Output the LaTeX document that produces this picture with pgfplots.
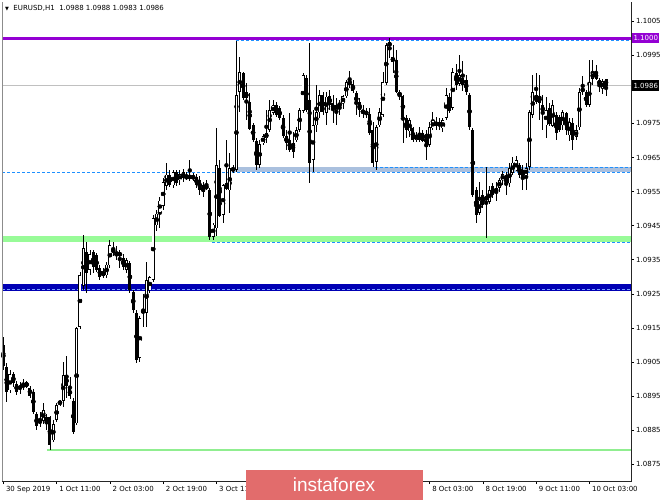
\documentclass[border=0pt]{standalone}
\usepackage{pgfplots}
\pgfplotsset{compat=1.18}
\usepackage{pgfplotstable}
\usepackage{fontspec}
\setmainfont{DejaVu Sans}
\newfontfamily\wmfont{Liberation Sans}
\definecolor{lvlviolet}{RGB}{148,0,211}
\definecolor{lvldash}{RGB}{30,144,255}
\definecolor{lvlgray}{RGB}{192,192,192}
\definecolor{lvlsteel}{RGB}{170,192,222}
\definecolor{lvlgreen}{RGB}{152,251,152}
\definecolor{lvlblue}{RGB}{0,0,180}
\definecolor{lvlblued}{RGB}{120,160,255}
\definecolor{lvlgreenthin}{RGB}{144,238,144}
\definecolor{wmred}{RGB}{226,108,108}

\pgfplotstableread{
k o h l c
0 1.09100 1.09123 1.09026 1.09038
1 1.09035 1.09047 1.08932 1.08962
2 1.08968 1.09026 1.08959 1.09015
3 1.09015 1.09021 1.08976 1.08988
4 1.08988 1.08997 1.08956 1.08962
5 1.08971 1.08994 1.08959 1.08982
6 1.08979 1.09003 1.08968 1.08985
7 1.08991 1.08997 1.08974 1.08979
8 1.08976 1.08982 1.08947 1.08953
9 1.08965 1.08971 1.08897 1.08906
10 1.08897 1.08903 1.08850 1.08862
11 1.08871 1.08903 1.08859 1.08880
12 1.08877 1.08930 1.08868 1.08909
13 1.08889 1.08897 1.08850 1.08868
14 1.08889 1.08894 1.08792 1.08806
15 1.08821 1.08880 1.08815 1.08868
16 1.08880 1.08932 1.08874 1.08924
17 1.08927 1.08938 1.08921 1.08935
18 1.08938 1.09050 1.08918 1.09012
19 1.09012 1.09070 1.08947 1.08979
20 1.08974 1.09009 1.08944 1.08950
21 1.08938 1.08944 1.08839 1.08847
22 1.08871 1.09155 1.08865 1.09150
23 1.09153 1.09314 1.09147 1.09305
24 1.09273 1.09423 1.09261 1.09384
25 1.09373 1.09402 1.09252 1.09311
26 1.09320 1.09379 1.09305 1.09367
27 1.09373 1.09379 1.09311 1.09329
28 1.09364 1.09370 1.09314 1.09320
29 1.09326 1.09335 1.09291 1.09299
30 1.09302 1.09326 1.09296 1.09314
31 1.09305 1.09343 1.09296 1.09337
32 1.09335 1.09408 1.09326 1.09393
33 1.09384 1.09402 1.09361 1.09370
34 1.09373 1.09390 1.09349 1.09361
35 1.09361 1.09379 1.09326 1.09373
36 1.09355 1.09367 1.09320 1.09329
37 1.09320 1.09355 1.09311 1.09349
38 1.09340 1.09346 1.09252 1.09261
39 1.09255 1.09261 1.09194 1.09203
40 1.09194 1.09203 1.09047 1.09056
41 1.09062 1.09185 1.09050 1.09179
42 1.09194 1.09252 1.09153 1.09203
43 1.09194 1.09343 1.09153 1.09291
44 1.09261 1.09302 1.09252 1.09299
45 1.09291 1.09481 1.09285 1.09472
46 1.09452 1.09496 1.09437 1.09487
47 1.09490 1.09534 1.09443 1.09525
48 1.09510 1.09590 1.09496 1.09578
49 1.09566 1.09634 1.09555 1.09599
50 1.09599 1.09613 1.09563 1.09569
51 1.09569 1.09613 1.09560 1.09607
52 1.09607 1.09613 1.09566 1.09575
53 1.09584 1.09613 1.09569 1.09602
54 1.09590 1.09616 1.09578 1.09607
55 1.09596 1.09607 1.09584 1.09590
56 1.09593 1.09643 1.09581 1.09596
57 1.09596 1.09604 1.09581 1.09590
58 1.09593 1.09602 1.09560 1.09569
59 1.09584 1.09596 1.09540 1.09555
60 1.09569 1.09578 1.09534 1.09549
61 1.09566 1.09584 1.09555 1.09560
62 1.09555 1.09560 1.09408 1.09417
63 1.09417 1.09458 1.09408 1.09452
64 1.09443 1.09736 1.09420 1.09628
65 1.09622 1.09643 1.09475 1.09481
66 1.09481 1.09575 1.09458 1.09569
67 1.09575 1.09701 1.09555 1.09558
68 1.09555 1.09663 1.09487 1.09619
69 1.09613 1.09628 1.09604 1.09619
70 1.09613 1.09992 1.09607 1.09833
71 1.09842 1.09945 1.09783 1.09901
72 1.09898 1.09901 1.09819 1.09825
73 1.09825 1.09869 1.09760 1.09842
74 1.09813 1.09839 1.09731 1.09736
75 1.09745 1.09751 1.09695 1.09701
76 1.09701 1.09707 1.09613 1.09628
77 1.09628 1.09701 1.09619 1.09690
78 1.09692 1.09719 1.09687 1.09713
79 1.09707 1.09789 1.09692 1.09722
80 1.09731 1.09819 1.09725 1.09789
81 1.09781 1.09819 1.09775 1.09804
82 1.09804 1.09813 1.09769 1.09775
83 1.09795 1.09801 1.09760 1.09766
84 1.09766 1.09775 1.09710 1.09713
85 1.09713 1.09731 1.09672 1.09692
86 1.09701 1.09781 1.09666 1.09672
87 1.09692 1.09725 1.09648 1.09666
88 1.09701 1.09739 1.09695 1.09731
89 1.09731 1.09795 1.09725 1.09789
90 1.09786 1.09898 1.09781 1.09892
91 1.09883 1.09892 1.09783 1.09789
92 1.09819 1.09986 1.09575 1.09634
93 1.09643 1.09789 1.09607 1.09745
94 1.09745 1.09863 1.09725 1.09783
95 1.09783 1.09848 1.09766 1.09833
96 1.09833 1.09842 1.09775 1.09783
97 1.09783 1.09842 1.09745 1.09830
98 1.09830 1.09848 1.09789 1.09804
99 1.09810 1.09833 1.09751 1.09789
100 1.09789 1.09825 1.09745 1.09804
101 1.09801 1.09819 1.09775 1.09810
102 1.09810 1.09836 1.09795 1.09830
103 1.09830 1.09877 1.09825 1.09871
104 1.09877 1.09904 1.09854 1.09863
105 1.09866 1.09877 1.09839 1.09845
106 1.09839 1.09845 1.09775 1.09807
107 1.09813 1.09825 1.09769 1.09789
108 1.09789 1.09804 1.09766 1.09781
109 1.09786 1.09795 1.09766 1.09778
110 1.09778 1.09795 1.09716 1.09722
111 1.09731 1.09754 1.09622 1.09634
112 1.09637 1.09745 1.09613 1.09739
113 1.09745 1.09795 1.09740 1.09783
114 1.09775 1.09901 1.09769 1.09871
115 1.09869 1.09986 1.09863 1.09980
116 1.09977 1.10000 1.09942 1.09989
117 1.09930 1.09980 1.09898 1.09945
118 1.09936 1.09965 1.09839 1.09842
119 1.09842 1.09848 1.09819 1.09830
120 1.09830 1.09836 1.09695 1.09769
121 1.09766 1.09775 1.09710 1.09731
122 1.09728 1.09766 1.09710 1.09760
123 1.09736 1.09739 1.09695 1.09701
124 1.09701 1.09725 1.09695 1.09716
125 1.09704 1.09739 1.09695 1.09719
126 1.09722 1.09731 1.09695 1.09701
127 1.09719 1.09731 1.09643 1.09681
128 1.09687 1.09754 1.09681 1.09739
129 1.09736 1.09783 1.09731 1.09760
130 1.09754 1.09769 1.09731 1.09745
131 1.09742 1.09766 1.09731 1.09754
132 1.09736 1.09766 1.09725 1.09760
133 1.09766 1.09854 1.09760 1.09833
134 1.09830 1.09842 1.09783 1.09789
135 1.09795 1.09913 1.09789 1.09901
136 1.09898 1.09927 1.09848 1.09863
137 1.09866 1.09951 1.09860 1.09892
138 1.09883 1.09936 1.09848 1.09863
139 1.09877 1.09892 1.09833 1.09842
140 1.09833 1.09842 1.09731 1.09739
141 1.09731 1.09736 1.09534 1.09540
142 1.09555 1.09563 1.09458 1.09481
143 1.09490 1.09578 1.09481 1.09525
144 1.09540 1.09555 1.09502 1.09510
145 1.09525 1.09622 1.09414 1.09537
146 1.09519 1.09569 1.09516 1.09555
147 1.09566 1.09575 1.09531 1.09540
148 1.09560 1.09578 1.09522 1.09549
149 1.09560 1.09590 1.09549 1.09584
150 1.09584 1.09610 1.09569 1.09602
151 1.09599 1.09607 1.09540 1.09569
152 1.09575 1.09634 1.09563 1.09619
153 1.09607 1.09651 1.09599 1.09637
154 1.09613 1.09654 1.09610 1.09643
155 1.09628 1.09634 1.09590 1.09599
156 1.09613 1.09628 1.09555 1.09593
157 1.09599 1.09634 1.09555 1.09619
158 1.09622 1.09789 1.09613 1.09783
159 1.09775 1.09892 1.09766 1.09842
160 1.09833 1.09898 1.09807 1.09813
161 1.09833 1.09892 1.09760 1.09810
162 1.09804 1.09833 1.09731 1.09781
163 1.09745 1.09827 1.09707 1.09789
164 1.09798 1.09810 1.09745 1.09751
165 1.09745 1.09819 1.09739 1.09804
166 1.09775 1.09783 1.09701 1.09722
167 1.09769 1.09775 1.09725 1.09731
168 1.09745 1.09789 1.09731 1.09783
169 1.09781 1.09783 1.09716 1.09731
170 1.09716 1.09766 1.09701 1.09754
171 1.09751 1.09766 1.09672 1.09701
172 1.09710 1.09745 1.09701 1.09731
173 1.09739 1.09854 1.09731 1.09842
174 1.09842 1.09889 1.09833 1.09854
175 1.09842 1.09848 1.09798 1.09804
176 1.09804 1.09936 1.09798 1.09871
177 1.09883 1.09936 1.09863 1.09901
178 1.09901 1.09921 1.09877 1.09883
179 1.09863 1.09883 1.09842 1.09877
180 1.09854 1.09880 1.09836 1.09874
181 1.09880 1.09880 1.09830 1.09860
}\ohlc

\begin{document}
\begin{tikzpicture}
\useasboundingbox[fill=white] (0,0) rectangle (665pt,499pt);
\begin{axis}[
  at={(2pt,18pt)}, anchor=south west,
  scale only axis, width=629pt, height=479pt,
  xmin=-0.4, xmax=188.5, ymin=1.08701, ymax=1.10106,
  clip mode=individual,
  axis line style={draw=none},
  font=\fontsize{7}{8}\selectfont,
  xtick={0,16,32,48,64,80,96,112,128,144,160,176},
  xticklabels={30 Sep 2019, 1 Oct 11:00, 2 Oct 03:00, 2 Oct 19:00, 3 Oct 11:00, {}, {}, {}, 8 Oct 03:00, 8 Oct 19:00, 9 Oct 11:00, 10 Oct 03:00},
  xtick pos=bottom, ytick pos=right, yticklabel pos=right,
  tick align=outside, major tick length=3pt,
  tick style={black, line width=0.6pt},
  xticklabel style={anchor=north west, xshift=0.5pt, inner sep=2pt},
  ytick={1.0875,1.0885,1.0895,1.0905,1.0915,1.0925,1.0935,1.0945,1.0955,1.0965,1.0975,1.0995,1.1005},
  scaled y ticks=false,
  yticklabel style={anchor=west, inner sep=2pt, /pgf/number format/.cd, fixed, fixed zerofill, precision=4, assume math mode=true},
  xticklabel style={/pgf/number format/assume math mode=true},
  extra description/.code={
    \draw[black!45, line width=1pt] (rel axis cs:0,0) -- (rel axis cs:0,1);
    \draw[black!85, line width=0.8pt] (rel axis cs:0,0) -- (rel axis cs:1,0) -- (rel axis cs:1,1);
  },
]
% levels
\addplot[lvlgray, line width=0.8pt] coordinates {(-0.4,1.0986) (188.5,1.0986)};
\addplot[lvlsteel, line width=5pt] coordinates {(69.3,1.09615) (188.5,1.09615)};
\addplot[lvldash, line width=0.8pt, dash pattern=on 3pt off 2pt] coordinates {(-0.4,1.09607) (188.5,1.09607)};
\addplot[lvldash, line width=0.8pt, dash pattern=on 3pt off 2pt] coordinates {(111.6,1.09622) (188.5,1.09622)};
\addplot[lvlgreen, line width=6pt] coordinates {(-0.4,1.09411) (188.5,1.09411)};
\addplot[lvldash, line width=0.8pt, dash pattern=on 3pt off 2pt] coordinates {(62.7,1.09402) (188.5,1.09402)};
\addplot[lvlblue, line width=7pt] coordinates {(-0.4,1.09268) (188.5,1.09268)};
\addplot[lvlblued, line width=0.8pt, dash pattern=on 3pt off 2pt] coordinates {(-0.4,1.09262) (188.5,1.09262)};
\addplot[lvlgreenthin, line width=1.5pt] coordinates {(13.1,1.08792) (188.5,1.08792)};
\addplot[lvldash, line width=0.8pt, dash pattern=on 3pt off 2pt] coordinates {(69.9,1.09992) (188.5,1.09992)};
\addplot[lvlviolet, line width=3pt] coordinates {(-0.4,1.1000) (188.5,1.1000)};
% wicks
\addplot[only marks, mark=none,
  error bars/.cd, y dir=both, y explicit, error mark=none,
  error bar style={draw=black, line width=0.8pt}]
  table[x=k, y expr={(\thisrow{h}+\thisrow{l})/2}, y error expr={(\thisrow{h}-\thisrow{l})/2}] {\ohlc};
% bodies
\addplot[only marks, mark=none,
  error bars/.cd, y dir=both, y explicit, error mark=none,
  error bar style={draw=black, line width=3pt, line cap=butt}]
  table[x=k, y expr={(\thisrow{o}+\thisrow{c})/2}, y error expr={max(abs(\thisrow{c}-\thisrow{o})/2,0.000015)}] {\ohlc};
% bull interiors
\addplot[only marks, mark=none,
  error bars/.cd, y dir=both, y explicit, error mark=none,
  error bar style={draw=white, line width=1.4pt, line cap=butt}]
  table[x=k, y expr={(\thisrow{o}+\thisrow{c})/2}, y error expr={max((\thisrow{c}-\thisrow{o})/2-0.000020,0)}] {\ohlc};
\coordinate (pA) at (axis cs:188.5,1.1000);
\coordinate (pB) at (axis cs:188.5,1.0986);
\coordinate (tl) at (rel axis cs:0,1);
\end{axis}
\node[anchor=west, fill=lvlviolet, text=white, inner xsep=1.5pt, inner ysep=0pt, minimum height=10pt, font=\fontsize{7}{8}\selectfont, xshift=0.8pt] at (pA) {1.1000};
\node[anchor=west, fill=black, text=white, inner xsep=1.5pt, inner ysep=0pt, minimum height=11pt, font=\fontsize{7}{8}\selectfont, xshift=0.8pt] at (pB) {1.0986};
\node[anchor=north west, inner sep=0pt, font=\fontsize{7}{8}\selectfont, xshift=3pt, yshift=-3pt] at (tl) {{\fontsize{5}{5}\selectfont ▼}\ \ EURUSD,H1\ \ 1.0988 1.0988 1.0983 1.0986};
\node[fill=wmred, text=white, minimum width=177pt, minimum height=30pt, inner sep=0pt, font=\wmfont\fontsize{19}{19}\selectfont] at (334pt,14pt) {instaforex};
\end{tikzpicture}
\end{document}
